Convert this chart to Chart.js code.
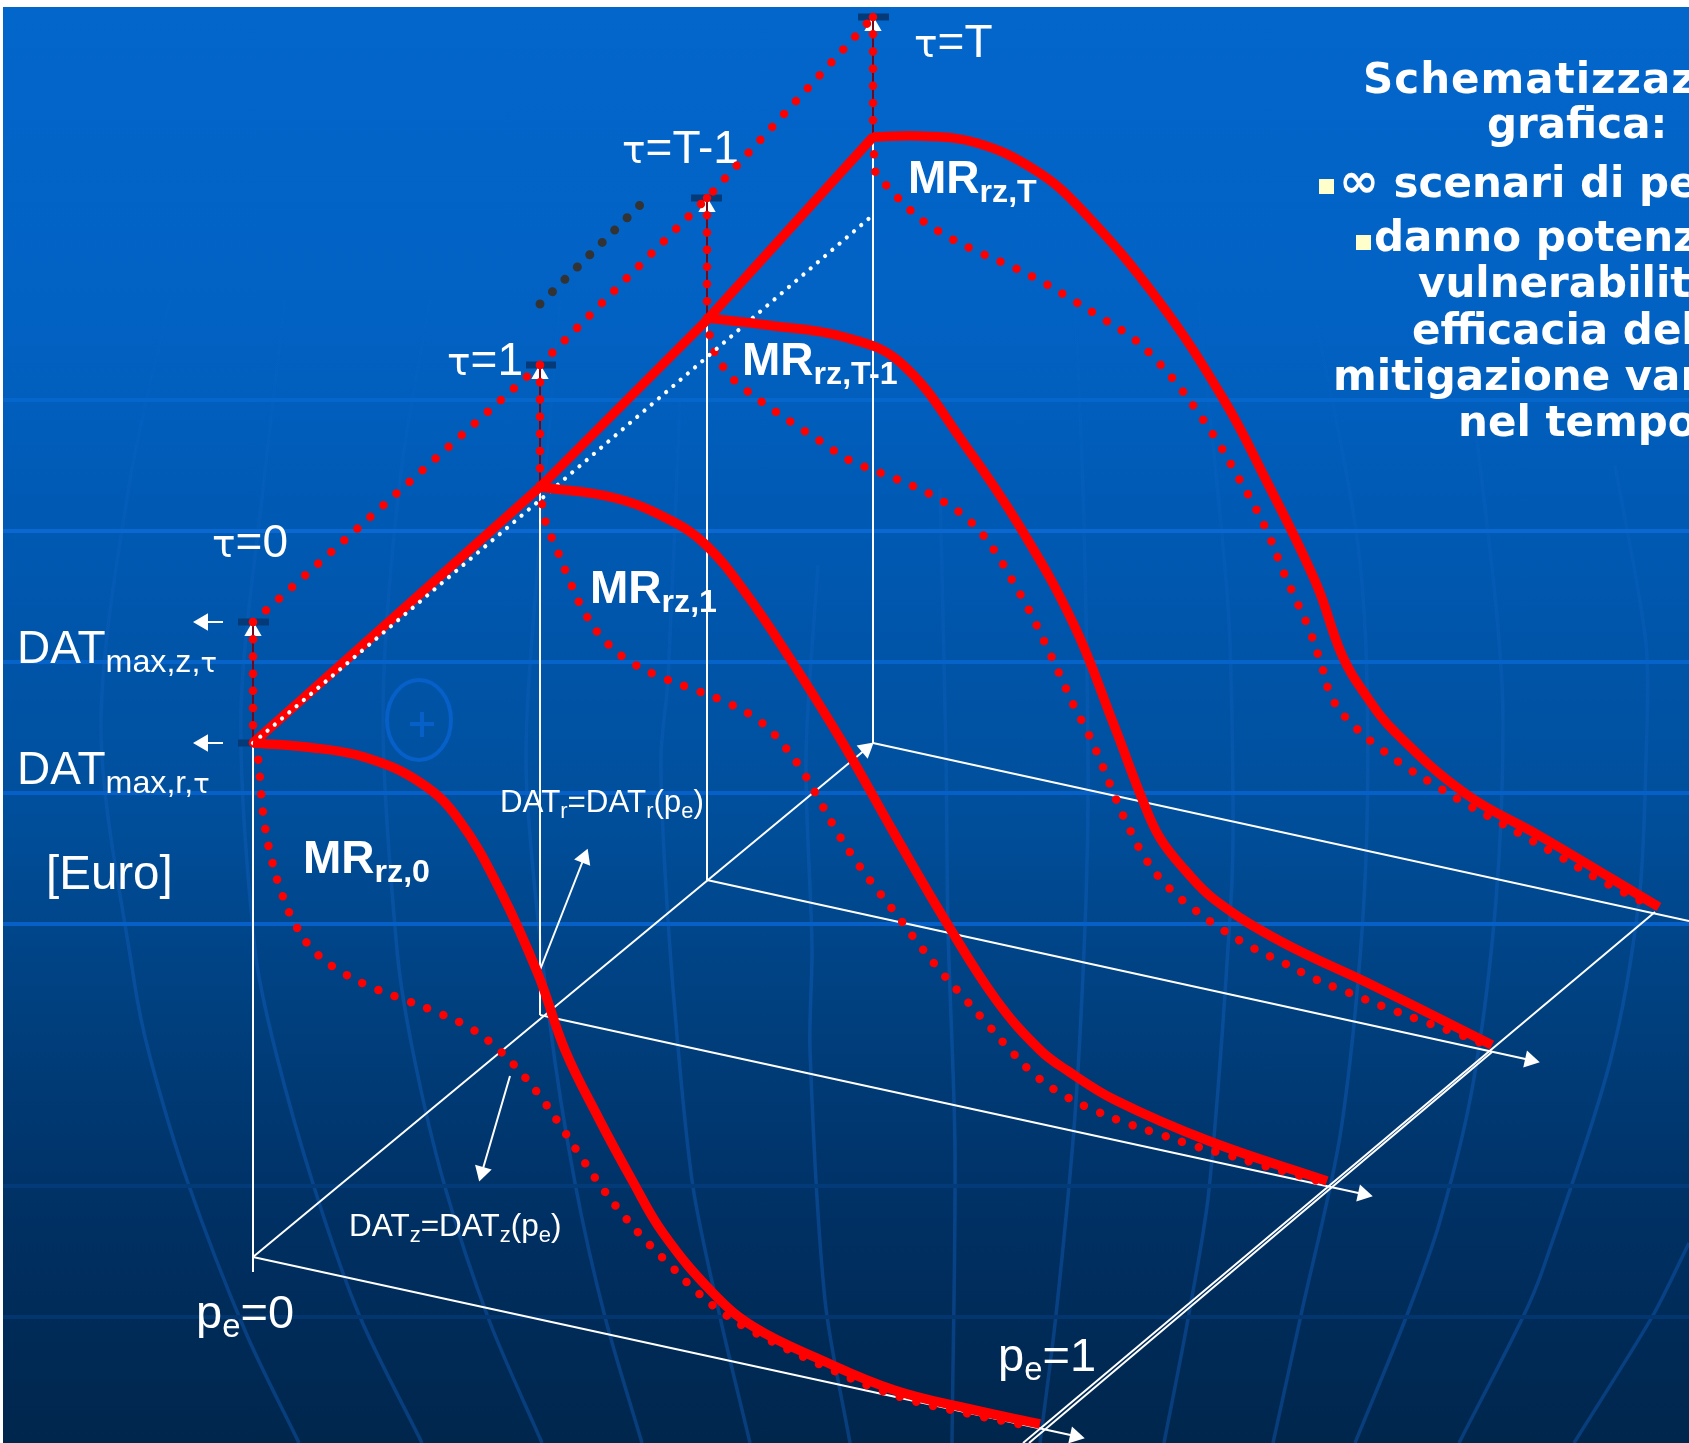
<!DOCTYPE html>
<html>
<head>
<meta charset="utf-8">
<title>Schematizzazione grafica</title>
<script src="https://cdn.jsdelivr.net/npm/chart.js@4/dist/chart.umd.js"></script>
<style>
  html, body { margin: 0; padding: 0; background: #fff; overflow: hidden; }
  #stage { position: relative; width: 1689px; height: 1443px; overflow: hidden; background: #fff; }
  #fondo { position: absolute; left: 3px; top: 7px; right: 0; bottom: 0;
    background: linear-gradient(#0366cb 0, #0262c4 300px, #005ab4 500px, #004f9c 800px, #00407f 1000px, #002f61 1230px, #00264c 1436px); }
  #testi { position: absolute; left: 0; top: 0; width: 1689px; height: 1443px; color: #fff; }
  #testi div { position: absolute; line-height: 0; white-space: nowrap; font-family: "Liberation Sans", Arial, sans-serif; }
  #testi div.bold { font-weight: bold; }
  #testi div.titolo { font-family: "DejaVu Sans", Verdana, sans-serif; font-weight: bold; }
  #testi sub { font-size: 0.7em; line-height: 0; vertical-align: baseline; position: relative; top: 0.27em; }
  #testi .tau { font-family: "DejaVu Sans", sans-serif; font-size: 0.85em; }
  #testi .inf { font-size: 48px; }
  .bullet { position: absolute; background: #ffffcc; width: 15px; height: 15px; }
  canvas { position: absolute; left: 0; top: 0; }
</style>
</head>
<body>
<div id="stage">
  <div id="fondo"></div>
  <canvas id="sfondo" width="1689" height="1443"></canvas>
  <div id="testi"></div>
  <canvas id="grafico" width="1689" height="1443"></canvas>
</div>
<script>
// dati, in unita' del piano (x 0-1689, y 0-1443)

// curve MR continue
const mr0 = [[253,743],[306,747],[364,757],[421,783],[459,820],[500,890],[538,974],[565,1050],[598,1117],[632,1180],[663,1233],[713,1293],[754,1327],[819,1359],[894,1390],[970,1409],[1040,1424]];
const mr1 = [[540,487],[615,498],[672,521],[707,546],[745,592],[791,660],[844,745],[894,833],[948,925],[997,1001],[1040,1050],[1068,1071],[1115,1100],[1209,1141],[1327,1181]];
const mrT1 = [[707,318],[767,325],[844,337],[901,363],[965,445],[1020,527],[1074,625],[1114,725],[1143,801],[1160,838],[1185,870],[1215,900],[1280,941],[1374,986],[1492,1045]];
const mrT = [[873,137],[920,136],[977,143],[1035,170],[1080,208],[1158,300],[1224,400],[1264,476],[1316,583],[1342,655],[1365,694],[1395,732],[1466,794],[1540,836],[1659,907]];

// curve MR punteggiate
const dot0 = [[253,743],[258,758],[261,793],[265,827],[272,861],[282,894],[296,926],[316,953],[345,974],[376,989],[408,1001],[441,1014],[472,1029],[499,1050],[523,1075],[545,1103],[564,1131],[583,1160],[603,1189],[624,1216],[647,1242],[672,1267],[696,1291],[723,1313],[754,1332],[819,1364],[894,1395],[970,1414],[1034,1427]];
const dot1 = [[540,487],[545,520],[558,552],[571,584],[586,615],[607,643],[634,664],[666,679],[698,691],[730,704],[761,722],[785,747],[805,775],[822,805],[839,835],[858,864],[879,892],[900,919],[921,947],[943,974],[966,1000],[989,1026],[1012,1052],[1036,1076],[1065,1096],[1096,1111],[1129,1124],[1162,1135],[1195,1146],[1228,1155],[1261,1165],[1294,1174],[1322,1182]];
const dotT1 = [[707,318],[710,337],[715,353],[724,368],[735,381],[762,402],[791,422],[820,441],[849,460],[881,473],[913,486],[944,502],[972,523],[994,550],[1012,580],[1029,610],[1044,641],[1059,673],[1073,704],[1089,735],[1103,767],[1116,799],[1130,830],[1147,861],[1169,888],[1195,910],[1223,930],[1253,948],[1284,963],[1315,979],[1347,992],[1395,1011],[1428,1023],[1461,1035],[1487,1045]];
const dotT = [[873,137],[874,155],[875,171],[885,184],[897,197],[909,209],[923,221],[952,239],[983,254],[1015,268],[1046,284],[1076,302],[1105,320],[1134,339],[1159,363],[1181,389],[1202,418],[1221,447],[1238,477],[1255,507],[1270,538],[1283,571],[1297,602],[1311,634],[1322,667],[1333,700],[1355,727],[1381,749],[1409,769],[1438,787],[1468,805],[1499,822],[1529,839],[1559,856],[1600,880],[1655,908]];

// spigoli del grafico
const spigoloMax = [[253,743],[540,487],[707,320],[873,137]];
const spigoloZ = [[253,622],[540,365],[707,198],[873,17]];
const spigoloNero = [[540,304],[640,205]];
const spigoloBianco = [[253,743],[540,500],[873,215]];
const assiVerticali = [[[253,743],[253,1272]], [[540,490],[540,1015]], [[707,320],[707,880]], [[873,137],[873,743]]];
const tratteggiVerticali = [[[253,622],[253,743]], [[540,365],[540,487]], [[707,198],[707,320]], [[873,17],[873,137]]];
const barrette = [[[238,622],[269,622]], [[238,743],[253,743]], [[526,365],[556,365]], [[691,198],[722,198]], [[858,17],[889,17]]];
const lineaPe1 = [[[1023,1443],[1655,912]], [[1029,1443],[1492,1052]]];
const lineaPe4 = [[873,743],[1689,921]];

// frecce: partenza, arrivo della testa
const frecce = [
  [[253,1257],[866,749]],
  [[253,1257],[1075,1436]],
  [[540,1015],[1363,1194]],
  [[707,880],[1530,1060]],
  [[223,622],[203,622]],
  [[223,743],[203,743]],
  [[253,700],[253,631]],
  [[540,430],[540,374]],
  [[707,260],[707,207]],
  [[873,80],[873,26]],
  [[540,970],[584,858]],
  [[510,1076],[482,1172]]
];

// sfondo: righe orizzontali e meridiani
const righeY = [400, 531, 662, 793, 924, 1186, 1317];
const righeColori = ['#0567cc', '#0a68d0', '#0663ca', '#0660c8', '#0660c8', '#033a78', '#03366f'];
const meridiani = [
  [[170,300],[130,480],[101,730],[134,980],[150,1057],[188,1183],[246,1333],[299,1443]],
  [[285,300],[264,480],[241,713],[255,950],[276,1053],[315,1190],[360,1317],[422,1443]],
  [[430,300],[400,480],[383,713],[397,950],[414,1057],[445,1187],[489,1320],[542,1443]],
  [[560,300],[529,680],[527,794],[550,1024],[575,1183],[605,1317],[642,1443]],
  [[680,400],[668,680],[661,756],[665,871],[676,1024],[693,1187],[720,1317],[750,1443]],
  [[818,565],[806,756],[812,947],[810,1050],[825,1300],[850,1443]],
  [[940,488],[946,756],[948,928],[955,1150],[952,1443]],
  [[1075,300],[1083,491],[1088,759],[1086,900],[1075,1115],[1056,1315],[1040,1443]],
  [[1198,300],[1228,606],[1233,797],[1231,900],[1209,1190],[1188,1319],[1164,1443]],
  [[1314,311],[1356,530],[1367,683],[1364,900],[1341,1130],[1301,1315],[1273,1443]],
  [[1474,415],[1496,606],[1503,721],[1496,900],[1473,1084],[1440,1221],[1407,1315],[1355,1443]],
  [[1615,465],[1646,644],[1646,759],[1639,900],[1610,1062],[1544,1266],[1523,1317],[1459,1443]],
  [[1689,1243],[1652,1317],[1574,1443]]
];
const piuH = [[410,724],[434,724]];
const piuV = [[422,712],[422,737]];
const cerchio = { x: 419, y: 720, rx: 32, ry: 40 };

// testi della figura
const TAU = '<span class="tau">τ</span>';
const etichette = [
  [TAU + '=0', 212, 557, 46, ''],
  [TAU + '=1', 447, 375, 46, ''],
  [TAU + '=T-1', 622, 163, 46, ''],
  [TAU + '=T', 914, 57, 46, ''],
  ['DAT<sub>max,z,' + TAU + '</sub>', 17, 663, 46, ''],
  ['DAT<sub>max,r,' + TAU + '</sub>', 17, 784, 46, ''],
  ['[Euro]', 46, 889, 47.5, ''],
  ['MR<sub>rz,0</sub>', 303, 873, 46, 'bold'],
  ['MR<sub>rz,1</sub>', 590, 603, 46, 'bold'],
  ['MR<sub>rz,T-1</sub>', 742, 375, 46, 'bold'],
  ['MR<sub>rz,T</sub>', 908, 193, 46, 'bold'],
  ['DAT<sub>r</sub>=DAT<sub>r</sub>(p<sub>e</sub>)', 500, 813, 31.3, ''],
  ['DAT<sub>z</sub>=DAT<sub>z</sub>(p<sub>e</sub>)', 349, 1236, 31.5, ''],
  ['p<sub>e</sub>=0', 196, 1328, 47, ''],
  ['p<sub>e</sub>=1', 998, 1371, 47, ''],
  ['<span style="letter-spacing:1px">Schematizzazione</span>', 1363, 94, 42, 'titolo'],
  ['grafica:', 1487, 139, 42, 'titolo'],
  ['<span class="inf">∞</span> scenari di perdita', 1339, 195, 42, 'titolo'],
  ['danno potenziale', 1374, 252, 42, 'titolo'],
  ['vulnerabilità', 1418, 298, 42, 'titolo'],
  ['efficacia della', 1412, 345, 42, 'titolo'],
  ['mitigazione variabile', 1333, 391, 42, 'titolo'],
  ['nel tempo', 1458, 437, 42, 'titolo']
];
const quadratini = [[1319, 179], [1356, 235]];

const testi = document.getElementById('testi');
etichette.forEach(e => {
  const d = document.createElement('div');
  d.className = e[4];
  d.innerHTML = e[0];
  d.style.left = e[1] + 'px';
  d.style.top = (e[2] - 0.346 * e[3]) + 'px';
  d.style.fontSize = e[3] + 'px';
  testi.appendChild(d);
});
quadratini.forEach(q => {
  const b = document.createElement('span');
  b.className = 'bullet';
  b.style.left = q[0] + 'px';
  b.style.top = q[1] + 'px';
  testi.appendChild(b);
});

const punti = arr => arr.map(p => ({ x: p[0], y: p[1] }));

function linea(arr, colore, spessore, ordine, extra) {
  return Object.assign({
    data: punti(arr),
    borderColor: colore,
    borderWidth: spessore,
    pointRadius: 0,
    tension: 0,
    fill: false,
    order: ordine
  }, extra || {});
}
const punteggiata = (arr, colore, spessore, passo, ordine, tensione) =>
  linea(arr, colore, spessore, ordine, { borderDash: [0.01, passo], borderCapStyle: 'round', tension: tensione || 0 });

function freccia(f) {
  const a = f[0], b = f[1];
  const angolo = Math.atan2(b[1] - a[1], b[0] - a[0]) * 180 / Math.PI + 90;
  return linea(f, '#ffffff', 2, 6, {
    pointStyle: 'triangle',
    pointRadius: [0, 10],
    pointRotation: [0, angolo],
    pointBackgroundColor: '#ffffff',
    pointBorderColor: '#ffffff',
    pointBorderWidth: 0
  });
}

// primo piano: ordine basso = disegnato sopra
const datasets = [];
[mr0, mr1, mrT1, mrT].forEach(c => datasets.push(linea(c, '#ff0000', 9.5, 1, { tension: 0.4 })));
datasets.push(linea(spigoloMax, '#ff0000', 9.5, 2));
[dot0, dot1, dotT1, dotT].forEach(c => datasets.push(punteggiata(c, '#ff0000', 8.5, 17.4, 3, 0.4)));
datasets.push(punteggiata(spigoloZ, '#ff0000', 8.5, 17.5, 3));
tratteggiVerticali.forEach(t => {
  datasets.push(punteggiata(t, '#ff0000', 8.5, 17.2, 3));
  datasets.push(linea(t, '#6a0a20', 2, 5));
});
datasets.push(punteggiata(spigoloNero, '#333333', 9, 17.5, 3));
datasets.push(punteggiata(spigoloBianco, '#ffffff', 4.2, 9.5, 1));
frecce.forEach(f => datasets.push(freccia(f)));
assiVerticali.forEach(a => datasets.push(linea(a, '#ffffff', 2, 6)));
lineaPe1.forEach(a => datasets.push(linea(a, '#ffffff', 2, 6)));
datasets.push(linea(lineaPe4, '#ffffff', 2, 6));
barrette.forEach(b => datasets.push(linea(b, '#053a78', 7, 7)));

// sfondo: meridiani piu' tenui verso l'alto
const ctxSfondo = document.getElementById('sfondo').getContext('2d');
const sfumaMeridiani = ctxSfondo.createLinearGradient(0, 280, 0, 1000);
sfumaMeridiani.addColorStop(0, 'rgba(30,115,215,0.04)');
sfumaMeridiani.addColorStop(0.5, 'rgba(25,105,205,0.2)');
sfumaMeridiani.addColorStop(1, 'rgba(20,100,200,0.38)');

const datasetsSfondo = [];
righeY.forEach((y, i) => datasetsSfondo.push(linea([[3, y], [1689, y]], righeColori[i], 4, 1)));
meridiani.forEach(m => datasetsSfondo.push(linea(m, sfumaMeridiani, 3.5, 2, { tension: 0.3 })));
datasetsSfondo.push(linea(piuH, '#0660c8', 4, 1));
datasetsSfondo.push(linea(piuV, '#0660c8', 4, 1));

// ellisse col "+"
const ellissePlugin = {
  id: 'ellisse',
  afterDatasetsDraw(chart) {
    const c = chart.ctx, sx = chart.scales.x, sy = chart.scales.y;
    c.save();
    c.strokeStyle = '#0660c8';
    c.lineWidth = 4;
    c.beginPath();
    c.ellipse(sx.getPixelForValue(cerchio.x), sy.getPixelForValue(cerchio.y), cerchio.rx, cerchio.ry, 0, 0, Math.PI * 2);
    c.stroke();
    c.restore();
  }
};

const opzioni = {
  responsive: false,
  animation: false,
  layout: { padding: 0, autoPadding: false },
  plugins: { legend: { display: false }, tooltip: { enabled: false }, title: { display: false } },
  scales: {
    x: { type: 'linear', display: false, min: 0, max: 1689 },
    y: { type: 'linear', display: false, min: 0, max: 1443, reverse: true }
  }
};

new Chart(ctxSfondo, { type: 'line', data: { datasets: datasetsSfondo }, plugins: [ellissePlugin], options: opzioni });
new Chart(document.getElementById('grafico').getContext('2d'), { type: 'line', data: { datasets: datasets }, options: opzioni });
</script>
</body>
</html>
